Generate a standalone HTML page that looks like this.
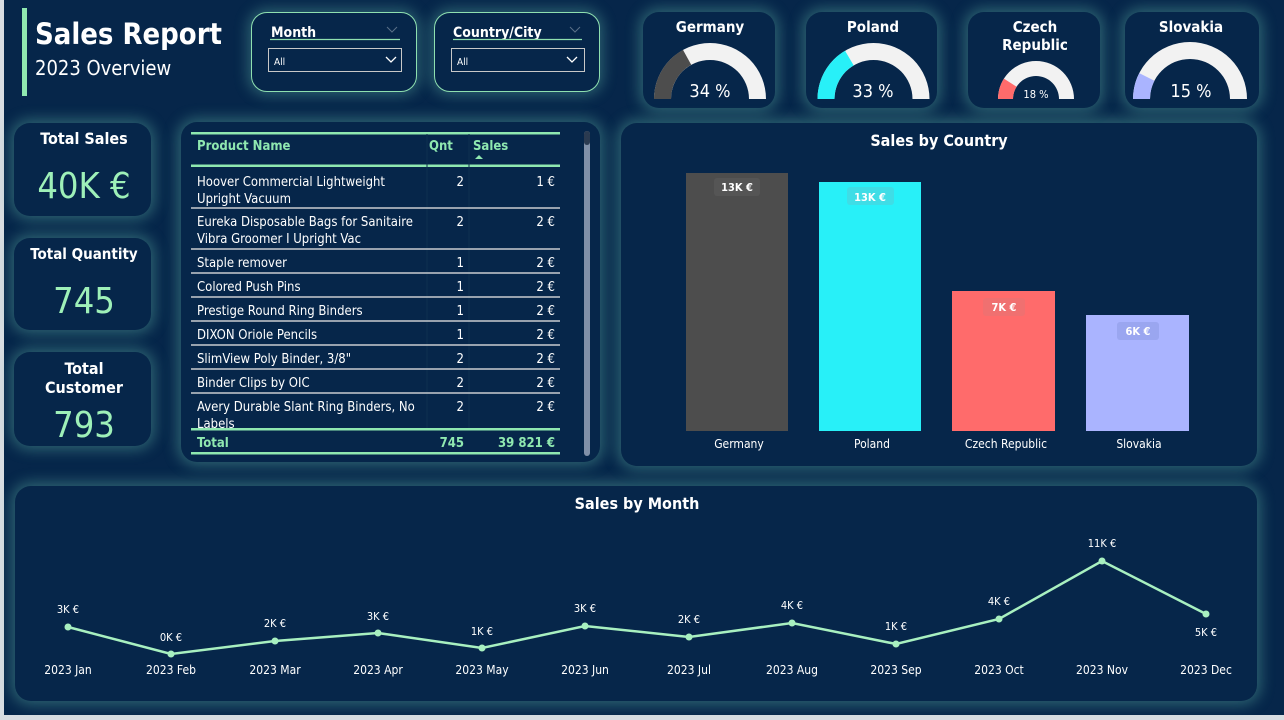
<!DOCTYPE html>
<html><head><meta charset="utf-8"><style>
html,body{margin:0;padding:0;background:#06264a;}
body{width:1284px;height:720px;overflow:hidden;position:relative;font-family:"DejaVu Sans Condensed","Liberation Sans",sans-serif;}
.p{position:absolute;background:#06264a;border-radius:16px;box-shadow:0 0 14px 4px rgba(90,170,160,0.45);}
</style></head><body>
<div style="position:absolute;left:0;top:0;width:4px;height:720px;background:#d8dde2"></div>
<div style="position:absolute;left:0;top:715px;width:1284px;height:5px;background:#d8dde2"></div>
<div class="p" style="left:251px;top:12px;width:164px;height:78px;border:1.5px solid #8fe0b0;box-shadow:0 0 14px 3px rgba(90,170,160,0.45)"></div>
<div class="p" style="left:434px;top:12px;width:164px;height:78px;border:1.5px solid #8fe0b0;box-shadow:0 0 14px 3px rgba(90,170,160,0.45)"></div>
<div class="p" style="left:643px;top:12px;width:132px;height:96px"></div>
<div class="p" style="left:806px;top:12px;width:131px;height:96px"></div>
<div class="p" style="left:968px;top:12px;width:132px;height:96px"></div>
<div class="p" style="left:1125px;top:12px;width:134px;height:96px"></div>
<div class="p" style="left:14px;top:123px;width:137px;height:93px"></div>
<div class="p" style="left:14px;top:238px;width:137px;height:92px"></div>
<div class="p" style="left:14px;top:352px;width:137px;height:94px"></div>
<div class="p" style="left:181px;top:122px;width:419px;height:340px"></div>
<div class="p" style="left:621px;top:123px;width:636px;height:343px"></div>
<div class="p" style="left:15px;top:486px;width:1242px;height:215px"></div>
<svg width="1284" height="720" style="position:absolute;left:0;top:0" font-family="DejaVu Sans Condensed, Liberation Sans, sans-serif">
<rect x="22" y="8" width="5" height="88" fill="#8fe8b0"/>
<text x="35" y="44" fill="#fff" font-size="29" font-weight="bold" textLength="187" lengthAdjust="spacingAndGlyphs">Sales Report</text>
<text x="35" y="75" fill="#fff" font-size="20">2023 Overview</text>
<g fill="#fff" font-size="14" font-weight="bold">
<text x="271" y="37">Month</text><text x="453" y="37">Country/City</text></g>
<line x1="270" y1="39.5" x2="400" y2="39.5" stroke="#8fe0b0" stroke-width="1.2"/>
<line x1="453" y1="39.5" x2="582" y2="39.5" stroke="#8fe0b0" stroke-width="1.2"/>
<path d="M387,27 l5,5 l5,-5 M570,27 l5,5 l5,-5" stroke="#5a7088" fill="none"/>
<rect x="268.5" y="48.5" width="133" height="23" fill="none" stroke="#c8c8c8"/>
<rect x="451.5" y="48.5" width="133" height="23" fill="none" stroke="#c8c8c8"/>
<text x="274" y="65" fill="#fff" font-size="10">All</text><text x="457" y="65" fill="#fff" font-size="10">All</text>
<path d="M386,57 l5,5 l5,-5 M567,57 l5,5 l5,-5" stroke="#fff" fill="none" stroke-width="1.3"/>
<g fill="#fff" font-size="15" font-weight="bold" text-anchor="middle">
<text x="710" y="32">Germany</text><text x="873" y="32">Poland</text>
<text x="1035" y="32">Czech</text><text x="1035" y="50">Republic</text><text x="1191" y="32">Slovakia</text></g>
<g fill="#f2f2f2">
<path d="M654,99 A56,56 0 0 1 766,99 L749,99 A39,39 0 0 0 671,99 Z"/>
<path d="M817.5,99 A56,56 0 0 1 929.5,99 L912.5,99 A39,39 0 0 0 834.5,99 Z"/>
<path d="M998,99 A38,38 0 0 1 1074,99 L1059,99 A23,23 0 0 0 1013,99 Z"/>
<path d="M1133,99 A57,57 0 0 1 1247,99 L1230,99 A40,40 0 0 0 1150,99 Z"/>
</g>
<path d="M654,99 A56,56 0 0 1 683,49.9 L691.2,64.8 A39,39 0 0 0 671,99 Z" fill="#4d4d4d"/>
<path d="M817.5,99 A56,56 0 0 1 845,50.8 L853.65,65.4 A39,39 0 0 0 834.5,99 Z" fill="#28f0f8"/>
<path d="M998,99 A38,38 0 0 1 1003.9,78.6 L1016.6,86.7 A23,23 0 0 0 1013,99 Z" fill="#ff6b6b"/>
<path d="M1133,99 A57,57 0 0 1 1139.2,73.1 L1154.4,80.8 A40,40 0 0 0 1150,99 Z" fill="#aab4ff"/>
<g fill="#fff" font-size="18" text-anchor="middle">
<text x="710" y="97">34 %</text><text x="873" y="97">33 %</text><text x="1191" y="97">15 %</text>
<text x="1036" y="98" font-size="11">18 %</text></g>
<g fill="#fff" font-size="16" font-weight="bold" text-anchor="middle">
<text x="84" y="144">Total Sales</text><text x="84" y="259" font-size="15">Total Quantity</text>
<text x="84" y="374">Total</text><text x="84" y="393">Customer</text></g>
<g fill="#9ef0b8" font-size="36" text-anchor="middle">
<text x="84" y="198">40K €</text><text x="84" y="313">745</text><text x="84" y="437">793</text></g>
<rect x="191" y="132" width="369" height="2.5" fill="#8fe8b0"/>
<rect x="191" y="164.5" width="369" height="2.5" fill="#8fe8b0"/>
<g fill="#8fe8b0" font-size="13" font-weight="bold">
<text x="197" y="150">Product Name</text><text x="429" y="150">Qnt</text><text x="473" y="150">Sales</text></g>
<path d="M475,159 l4,-4 l4,4z" fill="#8fe8b0"/>
<line x1="427" y1="134" x2="427" y2="453" stroke="#0f3050"/><line x1="469" y1="134" x2="469" y2="453" stroke="#0f3050"/>
<g stroke="#c8ccd0" stroke-width="1.5">
<line x1="191" y1="208" x2="560" y2="208"/><line x1="191" y1="249" x2="560" y2="249"/>
<line x1="191" y1="273" x2="560" y2="273"/><line x1="191" y1="297" x2="560" y2="297"/>
<line x1="191" y1="321" x2="560" y2="321"/><line x1="191" y1="345" x2="560" y2="345"/>
<line x1="191" y1="369" x2="560" y2="369"/><line x1="191" y1="393" x2="560" y2="393"/></g>
<g fill="#fff" font-size="13">
<text x="197" y="186">Hoover Commercial Lightweight</text><text x="197" y="203">Upright Vacuum</text>
<text x="197" y="226">Eureka Disposable Bags for Sanitaire</text><text x="197" y="243">Vibra Groomer I Upright Vac</text>
<text x="197" y="267">Staple remover</text><text x="197" y="291">Colored Push Pins</text>
<text x="197" y="315">Prestige Round Ring Binders</text><text x="197" y="339">DIXON Oriole Pencils</text>
<text x="197" y="363">SlimView Poly Binder, 3/8"</text><text x="197" y="387">Binder Clips by OIC</text>
<text x="197" y="411">Avery Durable Slant Ring Binders, No</text><text x="197" y="428">Labels</text>
</g>
<g fill="#fff" font-size="13" text-anchor="end">
<text x="464" y="186">2</text><text x="464" y="226">2</text><text x="464" y="267">1</text><text x="464" y="291">1</text><text x="464" y="315">1</text><text x="464" y="339">1</text><text x="464" y="363">2</text><text x="464" y="387">2</text><text x="464" y="411">2</text>
<text x="555" y="186">1 €</text><text x="555" y="226">2 €</text><text x="555" y="267">2 €</text><text x="555" y="291">2 €</text><text x="555" y="315">2 €</text><text x="555" y="339">2 €</text><text x="555" y="363">2 €</text><text x="555" y="387">2 €</text><text x="555" y="411">2 €</text>
</g>
<rect x="191" y="428" width="369" height="2.5" fill="#8fe8b0"/>
<rect x="191" y="452" width="369" height="2.5" fill="#8fe8b0"/>
<rect x="191" y="430.5" width="369" height="21.5" fill="#06264a"/>
<g fill="#8fe8b0" font-size="13" font-weight="bold">
<text x="197" y="447">Total</text><text x="464" y="447" text-anchor="end">745</text><text x="555" y="447" text-anchor="end">39 821 €</text></g>
<rect x="584" y="131" width="6" height="325" rx="3" fill="#8090a8"/>
<rect x="584" y="131" width="6" height="14" rx="3" fill="#2a3a50"/>
<text x="939" y="146" fill="#fff" font-size="16" font-weight="bold" text-anchor="middle">Sales by Country</text>
<rect x="686" y="173" width="102" height="258" fill="#4d4d4d"/>
<rect x="819" y="182" width="102" height="249" fill="#28f0f8"/>
<rect x="952" y="291" width="103" height="140" fill="#ff6b6b"/>
<rect x="1086" y="315" width="103" height="116" fill="#aab4ff"/>
<rect x="714" y="178" width="46" height="18" rx="3" fill="#555"/>
<rect x="847" y="187" width="47" height="18" rx="3" fill="#3fdde6"/>
<rect x="983" y="298" width="42" height="18" rx="3" fill="#f07070"/>
<rect x="1117" y="322" width="42" height="18" rx="3" fill="#9aa6f0"/>
<g fill="#fff" font-size="11" font-weight="bold" text-anchor="middle">
<text x="737" y="191">13K €</text><text x="870" y="201">13K €</text><text x="1004" y="311">7K €</text><text x="1138" y="335">6K €</text></g>
<g fill="#fff" font-size="12" text-anchor="middle">
<text x="739" y="448">Germany</text><text x="872" y="448">Poland</text><text x="1006" y="448">Czech Republic</text><text x="1139" y="448">Slovakia</text></g>
<text x="637" y="509" fill="#fff" font-size="16" font-weight="bold" text-anchor="middle">Sales by Month</text>
<polyline points="68,627 171,654 275,641 378,633 482,648 585,626 689,637 792,623 896,644 999,619 1102,561 1206,614" fill="none" stroke="#a8f0c0" stroke-width="2.5"/>
<g fill="#a8f0c0">
<circle cx="68" cy="627" r="3.5"/><circle cx="171" cy="654" r="3.5"/><circle cx="275" cy="641" r="3.5"/><circle cx="378" cy="633" r="3.5"/><circle cx="482" cy="648" r="3.5"/><circle cx="585" cy="626" r="3.5"/><circle cx="689" cy="637" r="3.5"/><circle cx="792" cy="623" r="3.5"/><circle cx="896" cy="644" r="3.5"/><circle cx="999" cy="619" r="3.5"/><circle cx="1102" cy="561" r="3.5"/><circle cx="1206" cy="614" r="3.5"/></g>
<g fill="#fff" font-size="11" text-anchor="middle">
<text x="68" y="613">3K €</text><text x="171" y="641">0K €</text><text x="275" y="627">2K €</text><text x="378" y="620">3K €</text><text x="482" y="635">1K €</text><text x="585" y="612">3K €</text><text x="689" y="623">2K €</text><text x="792" y="609">4K €</text><text x="896" y="630">1K €</text><text x="999" y="605">4K €</text><text x="1102" y="547">11K €</text><text x="1206" y="636">5K €</text></g>
<g fill="#fff" font-size="12" text-anchor="middle">
<text x="68" y="674">2023 Jan</text><text x="171" y="674">2023 Feb</text><text x="275" y="674">2023 Mar</text><text x="378" y="674">2023 Apr</text><text x="482" y="674">2023 May</text><text x="585" y="674">2023 Jun</text><text x="689" y="674">2023 Jul</text><text x="792" y="674">2023 Aug</text><text x="896" y="674">2023 Sep</text><text x="999" y="674">2023 Oct</text><text x="1102" y="674">2023 Nov</text><text x="1206" y="674">2023 Dec</text></g>
</svg>
</body></html>
